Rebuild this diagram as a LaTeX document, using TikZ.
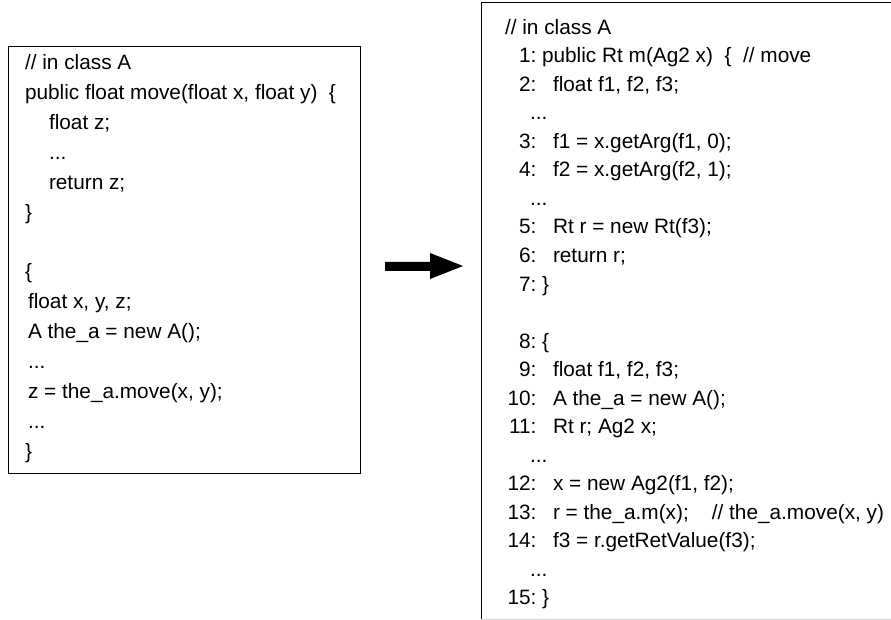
\documentclass[tikz,border=0pt]{standalone}
\usepackage{fontspec}
\setmainfont{Liberation Sans}
\begin{document}
\begin{tikzpicture}[x=1pt,y=-1pt,
  code/.style={anchor=base west,inner sep=0pt,outer sep=0pt,font=\fontsize{20.8pt}{25pt}\selectfont},
  num/.style={anchor=base east,inner sep=0pt,outer sep=0pt,font=\fontsize{20.8pt}{25pt}\selectfont},
  frame/.style={draw=black,line width=1pt}]
\useasboundingbox (0,0) rectangle (891,620);
% left box
\draw[frame] (8,47) rectangle (360,473);
\node[code] (l0) at (25,70.0) {// in class A};
\node[code] (l1) at (25,99.85) {public float move(float x, float y)\ \ \{};
\node[code] (l2) at (49,129.7) {float z;};
\node[code] (l3) at (49,159.55) {...};
\node[code] (l4) at (49,189.4) {return z;};
\node[code] (l5) at (25,219.25) {\}};
\node[code] (l7) at (25,278.95) {\{};
\node[code] (l8) at (28,308.8) {float x, y, z;};
\node[code] (l9) at (28,338.65) {A the\_a = new A();};
\node[code] (l10) at (28,368.5) {...};
\node[code] (l11) at (28,398.35) {z = the\_a.move(x, y);};
\node[code] (l12) at (28,428.2) {...};
\node[code] (l13) at (25,458.05) {\}};
% arrow
\coordinate (a0) at (385,267);
\coordinate (a1) at (463,266);
\fill[black] (385,262) -- (430,262) -- (430,253) -- (463,266) -- (430,279) -- (430,271) -- (385,271) -- cycle;
% right box
\draw[frame] (895,3) -- (481,3) -- (481,619);
\draw[black!15,line width=1pt] (481,619) -- (895,619);
\node[code] (r0) at (505,34.5) {// in class A};
\node[num] (n1) at (536.5,63) {1:};
\node[code] (c1) at (542,63) {public Rt m(Ag2 x)\ \ \{\ \ // move};
\node[num] (n2) at (536.5,91.5) {2:};
\node[code] (c2) at (553,91.5) {float f1, f2, f3;};
\node[code] (d1) at (530,120) {...};
\node[num] (n3) at (536.5,148.5) {3:};
\node[code] (c3) at (553,148.5) {f1 = x.getArg(f1, 0);};
\node[num] (n4) at (536.5,177) {4:};
\node[code] (c4) at (553,177) {f2 = x.getArg(f2, 1);};
\node[code] (d2) at (530,205.5) {...};
\node[num] (n5) at (536.5,234) {5:};
\node[code] (c5) at (553,234) {Rt r = new Rt(f3);};
\node[num] (n6) at (536.5,262.5) {6:};
\node[code] (c6) at (553,262.5) {return r;};
\node[num] (n7) at (536.5,291) {7:};
\node[code] (c7) at (542,291) {\}};
\node[num] (n8) at (536.5,348) {8:};
\node[code] (c8) at (542,348) {\{};
\node[num] (n9) at (536.5,376.5) {9:};
\node[code] (c9) at (553,376.5) {float f1, f2, f3;};
\node[num] (n10) at (536.5,405) {10:};
\node[code] (c10) at (553,405) {A the\_a = new A();};
\node[num] (n11) at (536.5,433.5) {11:};
\node[code] (c11) at (553,433.5) {Rt r; Ag2 x;};
\node[code] (d3) at (530,462) {...};
\node[num] (n12) at (536.5,490.5) {12:};
\node[code] (c12) at (553,490.5) {x = new Ag2(f1, f2);};
\node[num] (n13) at (536.5,519) {13:};
\node[code] (c13) at (553,519) {r = the\_a.m(x);\hspace{23pt}// the\_a.move(x, y)};
\node[num] (n14) at (536.5,547.5) {14:};
\node[code] (c14) at (553,547.5) {f3 = r.getRetValue(f3);};
\node[code] (d4) at (530,576) {...};
\node[num] (n15) at (536.5,604.5) {15:};
\node[code] (c15) at (542,604.5) {\}};
\end{tikzpicture}
\end{document}
